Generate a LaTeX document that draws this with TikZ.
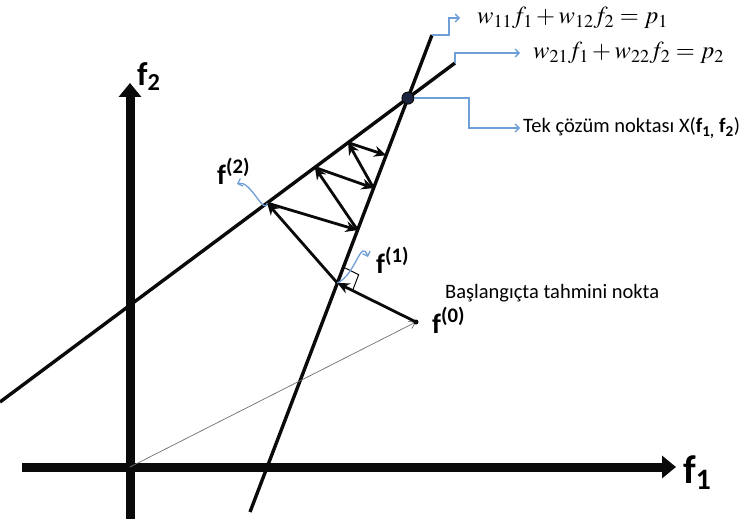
\documentclass[tikz,border=0pt]{standalone}
\usepackage{mathptmx}
\usepackage[no-math]{fontspec}
\setmainfont{Carlito}
\usetikzlibrary{arrows.meta,calc}
\definecolor{Ink}{HTML}{0A0A0A}
\definecolor{Callout}{HTML}{6F9FD8}
\definecolor{Thin}{HTML}{6E6E6E}
\definecolor{Knot}{HTML}{1C2640}
\tikzset{
  axisline/.style={draw=Ink,line width=9pt,-{Triangle[length=14pt,width=22pt]}},
  guide/.style={draw=Ink,line width=3.4pt},
  hop/.style={draw=Ink,line width=2.8pt,-{Stealth[length=12pt,width=11pt]}},
  callout/.style={draw=Callout,line width=1.3pt,-{Straight Barb[length=4pt,width=8pt]}},
  faint/.style={draw=Thin,line width=.7pt,-{Straight Barb[length=6pt,width=8pt]}},
  marker/.style={draw=Ink,line width=1pt},
  knot/.style={circle,draw=Ink,fill=Knot,line width=1pt,minimum size=12pt,inner sep=0pt},
  pin/.style={circle,fill=Ink,minimum size=5pt,inner sep=0pt},
  axlabel/.style={font=\bfseries\fontsize{40}{40}\selectfont,inner sep=0pt},
  ptlabel/.style={font=\bfseries\fontsize{28}{28}\selectfont,inner sep=0pt},
  eq/.style={font=\fontsize{24.5}{26}\selectfont,inner ysep=0pt},
  note/.style={font=\fontsize{20.5}{21}\selectfont,inner ysep=0pt,inner xsep=0pt}
}
\begin{document}
\begin{tikzpicture}[x=1pt,y=-1pt]
  \useasboundingbox (0,0) rectangle (745,519);
  \coordinate (O) at (130,467);
  \coordinate (hstart) at (22,467);
  \coordinate (hend) at (676,467);
  \coordinate (vstart) at (130,519);
  \coordinate (vend) at (130,83);
  \coordinate (L1a) at (250,512);
  \coordinate (L1b) at (432,35);
  \coordinate (L2a) at (0,402);
  \coordinate (L2b) at (455,63);
  \coordinate (X) at (intersection of L1a--L1b and L2a--L2b);
  \coordinate (f0) at (416,322);
  \coordinate (f1) at ($(L1a)!.48!(L1b)$);
  \coordinate (f2) at ($(L2a)!.587!(L2b)$);
  \coordinate (q1) at ($(L1a)!.591!(L1b)$);
  \coordinate (q2) at ($(L2a)!.692!(L2b)$);
  \coordinate (q3) at ($(L1a)!.679!(L1b)$);
  \coordinate (q4) at ($(L2a)!.765!(L2b)$);
  \coordinate (q5) at ($(L1a)!.748!(L1b)$);

  \draw[axisline] (hstart) -- (hend);
  \draw[axisline] (vstart) -- (vend);
  \node[axlabel,anchor=base west] (f1lab) at (683,483) {f\textsubscript{1}};
  \node[axlabel,anchor=base west,font=\bfseries\fontsize{33}{33}\selectfont] (f2lab) at (137,86) {f\textsubscript{2}};

  \draw[guide] (L1a) -- (L1b);
  \draw[guide] (L2a) -- (L2b);
  \draw[faint] (O) -- (f0);

  \draw[hop] (f0) -- (f1);
  \draw[hop] (f1) -- (f2);
  \draw[hop] (f2) -- (q1);
  \draw[hop] (q1) -- (q2);
  \draw[hop] (q2) -- (q3);
  \draw[hop] (q3) -- (q4);
  \draw[hop] (q4) -- (q5);

  \coordinate (m1) at ($(f1)!17pt!(L1b)$);
  \coordinate (m3) at ($(f1)!17pt!(f0)$);
  \draw[marker] (m1) -- ($(m1)+(m3)-(f1)$) -- (m3);

  \node[knot] (sol) at (X) {};
  \node[pin] (start) at (f0) {};

  \node[ptlabel,anchor=base west] (f0lab) at (432,333) {f\textsuperscript{(0)}};
  \node[ptlabel,anchor=base west] (f1lab) at (376,273) {f\textsuperscript{(1)}};
  \node[ptlabel,anchor=base west] (f2lab) at (217,184) {f\textsuperscript{(2)}};
  \coordinate (f1tip) at (368,257);
  \coordinate (f2tip) at (237,184);
  \draw[callout] (f1) to[out=25,in=110,looseness=1.3] (f1tip);
  \draw[callout] (f2) to[out=-100,in=20] (f2tip);

  \node[eq,anchor=west,inner xsep=17pt] (eqA) at (460,18) {$w_{11}f_1+w_{12}f_2=p_1$};
  \node[eq,anchor=west,inner xsep=13pt] (eqB) at (520,53) {$w_{21}f_1+w_{22}f_2=p_2$};
  \node[note,anchor=west,inner xsep=3pt] (tek) at (520,128) {Tek çözüm noktası X(\textbf{f}\textsubscript{\textbf{1,}} \textbf{f}\textsubscript{\textbf{2}})};
  \node[note,anchor=west] (guess) at (445,293) {Başlangıçta tahmini nokta};
  \draw[callout] (L1b) -- ++(17,0) |- (eqA.west);
  \draw[callout] (L2b) |- (eqB.west);
  \draw[callout] (sol) -- ++(61,0) |- (tek.west);
\end{tikzpicture}
\end{document}
